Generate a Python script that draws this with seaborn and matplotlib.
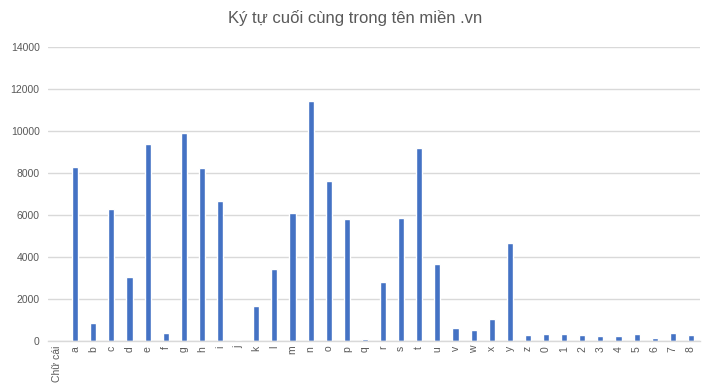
import matplotlib
matplotlib.use("Agg")
import matplotlib.pyplot as plt
import seaborn as sns
import pandas as pd

categories = ["Chữ cái", "a", "b", "c", "d", "e", "f", "g", "h", "i", "j", "k", "l", "m",
              "n", "o", "p", "q", "r", "s", "t", "u", "v", "w", "x", "y", "z",
              "0", "1", "2", "3", "4", "5", "6", "7", "8"]
values = [0, 8300, 870, 6300, 3060, 9400, 400, 9910, 8250, 6680, 60, 1680, 3440, 6100,
          11430, 7630, 5820, 110, 2820, 5870, 9200, 3680, 630, 540, 1060, 4680, 300,
          350, 350, 300, 260, 260, 350, 160, 400, 300]
yticks = [0, 2000, 4000, 6000, 8000, 10000, 12000, 14000]
title = "Ký tự cuối cùng trong tên miền .vn"

df = pd.DataFrame({"cat": categories, "val": values})

sns.set_style("white")
plt.rcParams['font.family'] = ['Liberation Sans', 'DejaVu Sans']

fig = plt.figure(figsize=(7.11, 3.91), dpi=100)
ax = fig.add_axes([48/711, 1-341/391, 652/711, 294/391])
sns.barplot(data=df, x="cat", y="val", color="#4472C4", width=0.34, ax=ax,
            saturation=1, errorbar=None)

ax.set_ylim(0, 14000)
ax.set_xlim(-0.5, len(categories) - 0.5)
ax.set_yticks(yticks)
ax.set_yticklabels([str(t) for t in yticks])
ax.yaxis.grid(True, color="#d9d9d9", linewidth=1)
ax.set_axisbelow(True)
for s in ["top", "right", "left"]:
    ax.spines[s].set_visible(False)
ax.spines["bottom"].set_color("#d9d9d9")
ax.spines["bottom"].set_linewidth(1)
ax.tick_params(axis="both", length=0, colors="#595959", labelsize=7.5)
ax.tick_params(axis="y", pad=6)
plt.setp(ax.get_xticklabels(), rotation=90)
ax.set_xlabel("")
ax.set_ylabel("")
fig.text(0.5, 1-18/391, title, ha="center", va="center", fontsize=12, color="#595959")

fig.savefig("out.png", dpi=100)
